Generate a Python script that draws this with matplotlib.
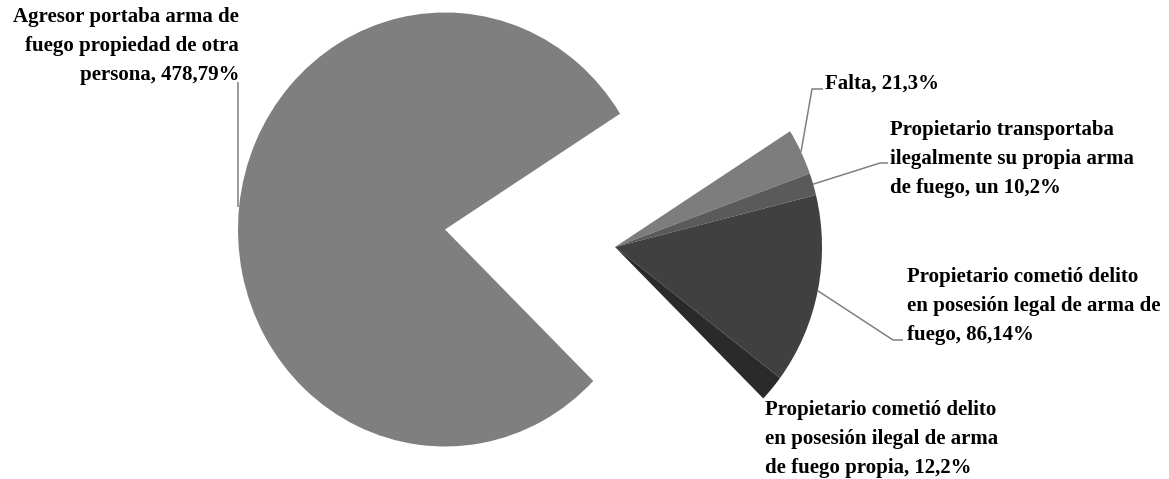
import numpy as np
import matplotlib
matplotlib.use('Agg')
import matplotlib.pyplot as plt

# ── data ────────────────────────────────────────────────────────────────
categories = [
    'Falta',
    'Propietario transportaba\nilegalmente su propia arma\nde fuego, un',
    'Propietario cometió delito\nen posesión legal de arma de\nfuego',
    'Propietario cometió delito\nen posesión ilegal de arma\nde fuego propia',
    'Agresor portaba arma de\nfuego propiedad de otra\npersona',
]
counts = [21, 10, 86, 12, 478]
colors = ['#7d7d7d', '#5a5a5a', '#404040', '#2a2a2a', '#7f7f7f']

total = sum(counts)
pcts = [int(round(c / total * 100)) for c in counts]

# ── layout (pixels of the 1169x479 image) ───────────────────────────────
W, H = 1169, 479
CX, CY = 445, 229.5          # centre of the large wedge
SX, SY = 207, 217            # pixel size of one radius (slightly oval)
GROUP_SHIFT = (170, 17.5)    # the four small wedges are pulled out together


def px(x, y):
    return (x - CX) / SX, (CY - y) / SY


# text anchor (px), alignment, leader elbow (px), leader end (px)
label_layout = [
    ((825, 84), 'left', (812, 89), (823, 89)),
    ((890, 159), 'left', (880, 163), (888, 163)),
    ((907, 306), 'left', (893, 340), (903, 340)),
    ((765, 439), 'left', None, None),
    ((239, 46), 'right', (238, 82), None),
]

fig = plt.figure(figsize=(W / 100, H / 100), dpi=100, facecolor='white')
ax = fig.add_axes([0, 0, 1, 1])

wedges, _ = ax.pie(counts, colors=colors, startangle=32.25, counterclock=False,
                   wedgeprops=dict(linewidth=0))
ax.set_aspect('auto')

dx, dy = GROUP_SHIFT[0] / SX, -GROUP_SHIFT[1] / SY
for w in wedges[:4]:
    w.set_center((dx, dy))

font = dict(family=['Liberation Serif', 'DejaVu Serif'], fontweight='bold',
            fontsize=15, color='black')

for w, name, c, p, (tpos, ha, elbow, end) in zip(wedges, categories, counts,
                                                  pcts, label_layout):
    sep = ' ' if name.endswith('un') else ', '
    txt = f'{name}{sep}{c},{p}%'
    tx, ty = px(*tpos)
    ax.text(tx, ty, txt, ha=ha, va='center', multialignment=ha,
            linespacing=1.6, **font)
    if elbow is None:
        continue
    # leader starts at the middle of the wedge's outer arc
    mid = np.deg2rad((w.theta1 + w.theta2) / 2)
    cx0, cy0 = w.center
    ax_, ay_ = cx0 + np.cos(mid), cy0 + np.sin(mid)
    ex, ey = px(*elbow)
    if end is None:
        xs, ys = [ex, ex], [ay_, ey]
    else:
        nx, ny = px(*end)
        xs, ys = [ax_, ex, nx], [ay_, ey, ny]
    ax.plot(xs, ys, color='#808080', linewidth=1.1, solid_capstyle='butt')

ax.set_xlim(px(0, 0)[0], px(W, 0)[0])
ax.set_ylim(px(0, H)[1], px(0, 0)[1])
ax.axis('off')

fig.savefig('out.png', dpi=100, facecolor='white')
